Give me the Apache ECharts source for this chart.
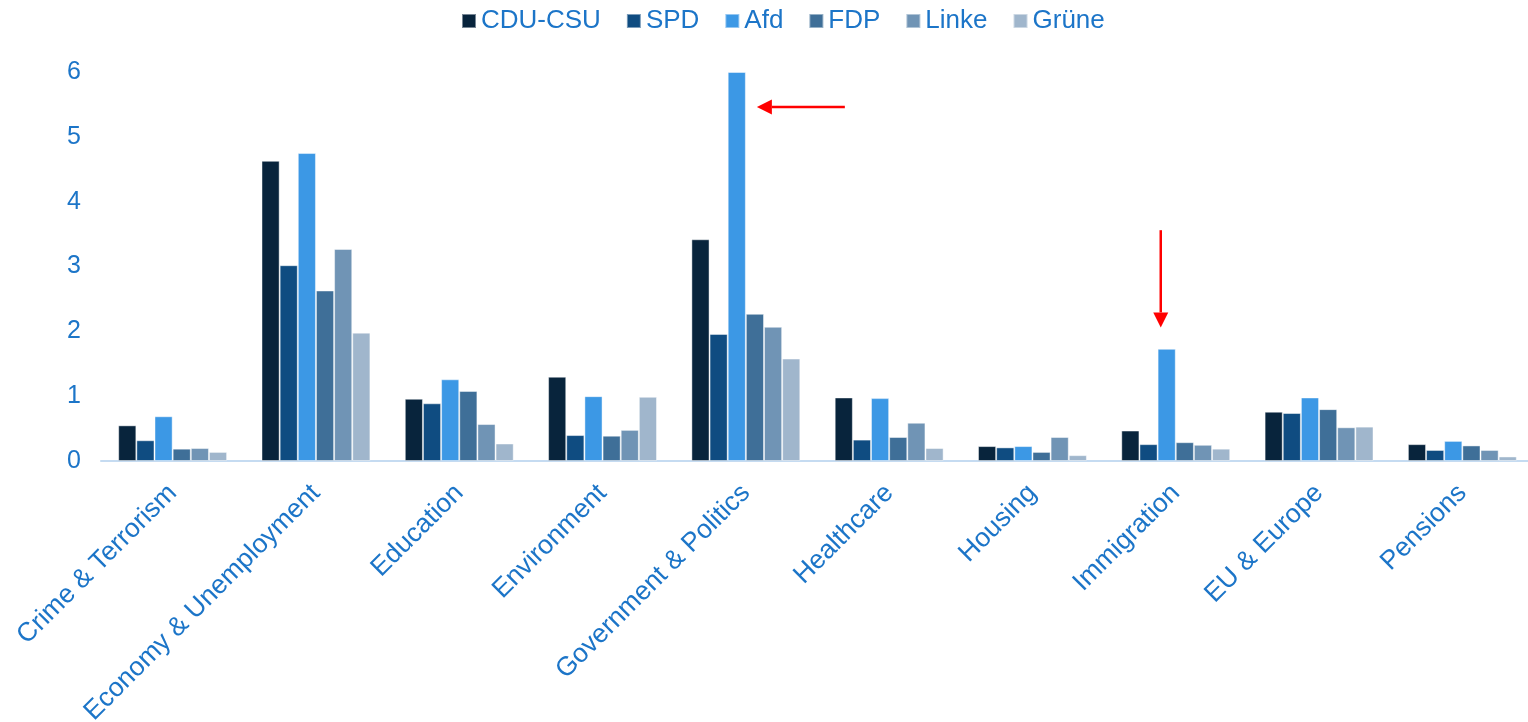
<!DOCTYPE html>
<html>
<head>
<meta charset="utf-8">
<script src="https://cdn.jsdelivr.net/npm/echarts@6/dist/echarts.min.js"></script>
<style>
  html, body { margin: 0; padding: 0; background: #fff; }
  #main { width: 1528px; height: 722px; }
</style>
</head>
<body>
<div id="main"></div>
<script>
var categories = ['Crime & Terrorism', 'Economy & Unemployment', 'Education', 'Environment',
  'Government & Politics', 'Healthcare', 'Housing', 'Immigration', 'EU & Europe', 'Pensions'];
var yTicks = [0, 1, 2, 3, 4, 5, 6];

var cduCsu = [0.55, 4.63, 0.96, 1.30, 3.42, 0.98, 0.23, 0.47, 0.76, 0.26];
var spd    = [0.32, 3.02, 0.89, 0.40, 1.96, 0.33, 0.21, 0.26, 0.74, 0.17];
var afd    = [0.69, 4.75, 1.26, 1.00, 6.00, 0.97, 0.23, 1.73, 0.98, 0.31];
var fdp    = [0.19, 2.63, 1.08, 0.39, 2.27, 0.37, 0.14, 0.29, 0.80, 0.24];
var linke  = [0.20, 3.27, 0.57, 0.48, 2.07, 0.59, 0.37, 0.25, 0.52, 0.17];
var gruene = [0.14, 1.98, 0.27, 0.99, 1.58, 0.20, 0.09, 0.19, 0.53, 0.07];

var textColor = '#1c75c8';
var font = 'Liberation Sans, Arial, sans-serif';

var myChart = echarts.init(document.getElementById('main'));

function bar(name, data, color) {
  return {
    name: name,
    type: 'bar',
    data: data,
    barGap: 0,
    barCategoryGap: '24%',
    itemStyle: { color: color, borderColor: 'rgba(255,255,255,0.45)', borderWidth: 1 }
  };
}

var option = {
  animation: false,
  textStyle: { fontFamily: font },
  legend: {
    top: 3,
    left: 456,
    itemWidth: 14,
    itemHeight: 14,
    itemGap: 25,
    icon: 'rect',
    textStyle: { color: textColor, fontSize: 26, fontFamily: font },
    data: ['CDU-CSU', 'SPD', 'Afd', 'FDP', 'Linke', 'Grüne']
  },
  grid: {
    left: 101,
    right: -6,
    top: 72,
    bottom: 261,
    outerBoundsMode: 'none',
    containLabel: false
  },
  xAxis: {
    type: 'category',
    data: categories,
    axisLine: { lineStyle: { color: '#c5dbf1', width: 2 } },
    axisTick: { show: false },
    axisLabel: {
      rotate: 45,
      interval: 0,
      margin: 28,
      color: textColor,
      fontSize: 26.5,
      fontFamily: font
    }
  },
  yAxis: {
    type: 'value',
    min: yTicks[0],
    max: yTicks[yTicks.length - 1],
    interval: 1,
    axisLine: { show: false },
    axisTick: { show: false },
    splitLine: { show: false },
    axisLabel: { color: textColor, fontSize: 25, fontFamily: font, margin: 20 }
  },
  series: [
    bar('CDU-CSU', cduCsu, '#08243c'),
    bar('SPD', spd, '#0f4c81'),
    bar('Afd', afd, '#3c98e5'),
    bar('FDP', fdp, '#3f6f98'),
    bar('Linke', linke, '#7094b5'),
    bar('Grüne', gruene, '#a0b6cc')
  ]
};

myChart.setOption(option);

// red annotation arrows
function arrow(x1, y1, x2, y2) {
  var dx = x2 - x1, dy = y2 - y1;
  var len = Math.sqrt(dx * dx + dy * dy);
  var ux = dx / len, uy = dy / len;
  var head = 15, half = 7.5;
  var bx = x2 - ux * head, by = y2 - uy * head;
  return [
    { type: 'line', shape: { x1: x1, y1: y1, x2: bx, y2: by }, style: { stroke: '#ff0000', lineWidth: 2.5 } },
    { type: 'polygon', shape: { points: [[x2, y2], [bx - uy * half, by + ux * half], [bx + uy * half, by - ux * half]] }, style: { fill: '#ff0000' } }
  ];
}

var gov = myChart.convertToPixel({ seriesIndex: 0 }, ['Government & Politics', 5.46]);
var imm = myChart.convertToPixel({ seriesIndex: 0 }, ['Immigration', 3.56]);
var immTip = myChart.convertToPixel({ seriesIndex: 0 }, ['Immigration', 2.06]);

myChart.setOption({
  graphic: arrow(gov[0] + 99, gov[1], gov[0] + 11, gov[1])
    .concat(arrow(imm[0] - 15, imm[1], imm[0] - 15, immTip[1]))
});
</script>
</body>
</html>
